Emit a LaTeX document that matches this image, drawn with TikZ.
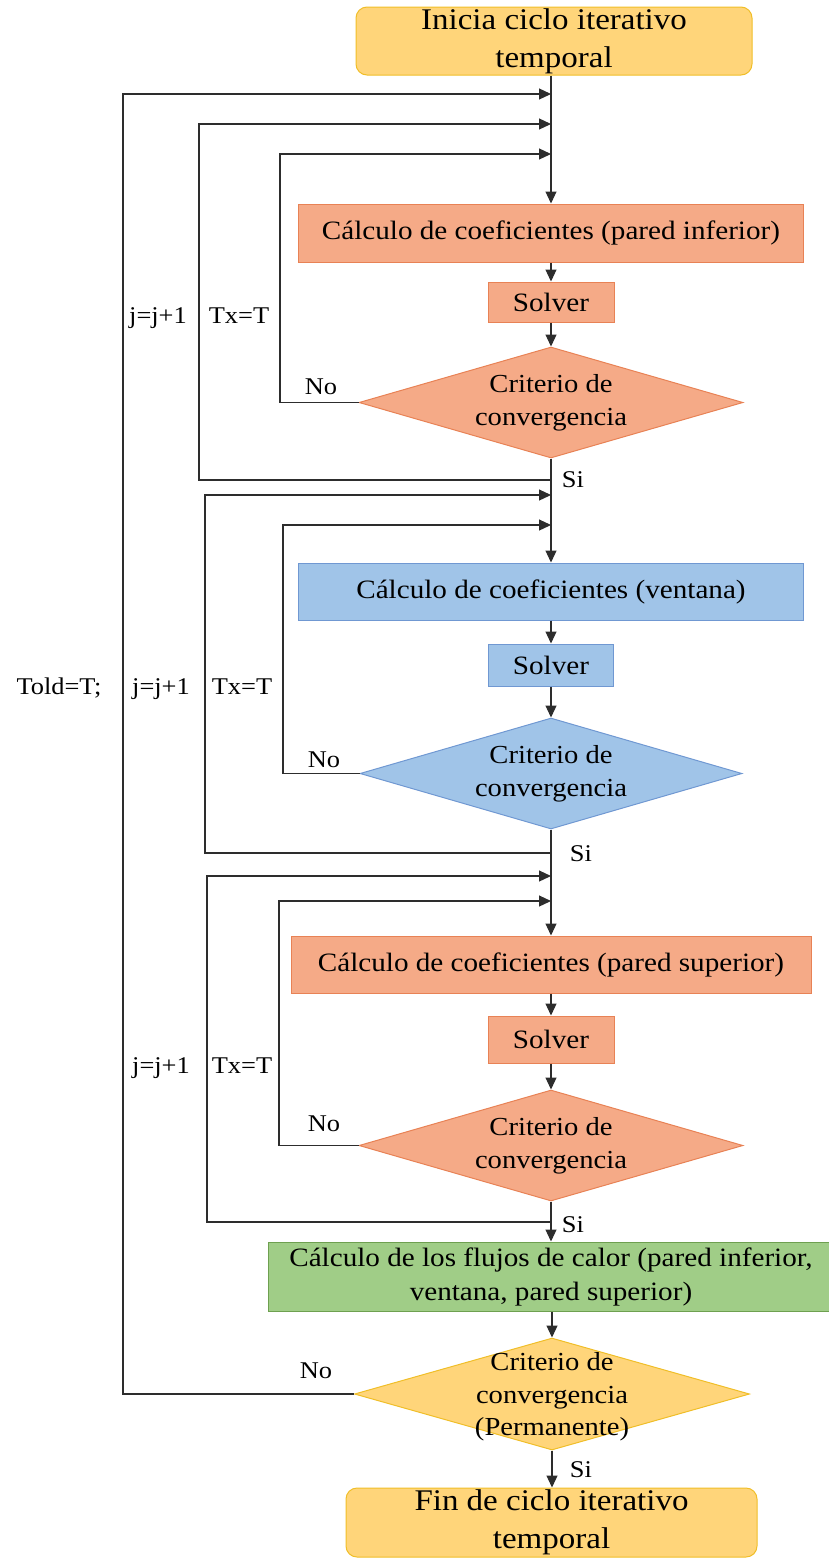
\documentclass[tikz,border=0pt]{standalone}
\usepackage{fontspec}
\setmainfont{Liberation Serif}[FakeStretch=1.1]
\usetikzlibrary{shapes.geometric,arrows.meta}
\definecolor{orfill}{RGB}{245,170,135}
\definecolor{ordraw}{RGB}{232,130,85}
\definecolor{blfill}{RGB}{160,196,232}
\definecolor{bldraw}{RGB}{112,152,210}
\definecolor{grfill}{RGB}{160,205,135}
\definecolor{grdraw}{RGB}{110,160,80}
\definecolor{yefill}{RGB}{255,213,122}
\definecolor{yedraw}{RGB}{240,190,40}
\definecolor{lncol}{RGB}{45,45,45}
\begin{document}
\begin{tikzpicture}[x=1pt,y=-1pt,
  ln/.style={draw=lncol, line width=1.2pt},
  arr/.style={ln,-{Triangle[length=12pt,width=11pt]}},
  proc/.style={rectangle, line width=1pt, inner sep=0pt, align=center,
    font=\fontsize{26.5}{34}\selectfont},
  term/.style={rectangle, rounded corners=11pt, line width=1pt, inner sep=0pt,
    align=center, fill=yefill, draw=yedraw, font=\fontsize{30}{38}\selectfont},
  dec/.style={diamond, line width=1pt, inner sep=0pt},
  dtext/.style={align=center, inner sep=0pt, font=\fontsize{26}{33}\selectfont},
  lab/.style={anchor=base, inner sep=0pt, font=\fontsize{24}{28}\selectfont}]
\useasboundingbox (0,0) rectangle (828,1559);

% --- nodes ---
\node[term, minimum width=396pt, minimum height=68pt] (start) at (554,41) {Inicia ciclo iterativo\\temporal};

\node[proc, fill=orfill, draw=ordraw, minimum width=505pt, minimum height=58pt] (b1) at (551,233) {Cálculo de coeficientes (pared inferior)};
\node[proc, fill=orfill, draw=ordraw, minimum width=126pt, minimum height=40pt] (s1) at (551,302) {Solver};
\node[dec, fill=orfill, draw=ordraw, minimum width=384pt, minimum height=111pt] (d1) at (551,402.5) {};
\node[dtext] (t1) at (d1) {Criterio de\\convergencia};

\node[proc, fill=blfill, draw=bldraw, minimum width=505pt, minimum height=57pt] (b2) at (551,591.5) {Cálculo de coeficientes (ventana)};
\node[proc, fill=blfill, draw=bldraw, minimum width=125pt, minimum height=42pt] (s2) at (551,665) {Solver};
\node[dec, fill=blfill, draw=bldraw, minimum width=382pt, minimum height=111pt] (d2) at (551,773.5) {};
\node[dtext] (t2) at (d2) {Criterio de\\convergencia};

\node[proc, fill=orfill, draw=ordraw, minimum width=520pt, minimum height=57pt] (b3) at (551,964.5) {Cálculo de coeficientes (pared superior)};
\node[proc, fill=orfill, draw=ordraw, minimum width=126pt, minimum height=47pt] (s3) at (551,1039.5) {Solver};
\node[dec, fill=orfill, draw=ordraw, minimum width=384pt, minimum height=111pt] (d3) at (551,1145.5) {};
\node[dtext] (t3) at (d3) {Criterio de\\convergencia};

\node[proc, fill=grfill, draw=grdraw, minimum width=566pt, minimum height=69pt] (g) at (551,1276.5) {Cálculo de los flujos de calor (pared inferior,\\ventana, pared superior)};
\node[dec, fill=yefill, draw=yedraw, minimum width=395pt, minimum height=112pt] (d4) at (552,1394) {};
\node[dtext, font=\fontsize{26}{32.5}\selectfont] (t4) at (552,1397) {Criterio de\\convergencia\\(Permanente)};

\node[term, minimum width=411pt, minimum height=69pt] (fin) at (551.5,1522.5) {Fin de ciclo iterativo\\temporal};

% --- junction points on the main line ---
\coordinate (m1) at (551,94);
\coordinate (m2) at (551,124);
\coordinate (m3) at (551,154);
\coordinate (j1) at (551,480);
\coordinate (m4) at (551,495);
\coordinate (m5) at (551,525);
\coordinate (j2) at (551,853);
\coordinate (m6) at (551,876);
\coordinate (m7) at (551,901);
\coordinate (j3) at (551,1222);

% --- main flow ---
\draw[arr] (start.south -| b1.north) -- (b1.north);
\draw[arr] (b1) -- (s1);
\draw[arr] (s1) -- (d1.north);
\draw[arr] (d1.south) -- (b2.north);
\draw[arr] (b2) -- (s2);
\draw[arr] (s2) -- (d2.north);
\draw[arr] (d2.south) -- (b3.north);
\draw[arr] (b3) -- (s3);
\draw[arr] (s3) -- (d3.north);
\draw[arr] (d3.south) -- (g.north);
\draw[arr] (g.south -| d4.north) -- (d4.north);
\draw[arr] (d4.south) -- (d4.south |- fin.north);

% --- loops ---
\draw[arr] (d4.west) -| (123,94) -- (m1);
\draw[arr] (j1) -| (199,124) -- (m2);
\draw[arr] (d1.west) -| (280,154) -- (m3);
\draw[arr] (j2) -| (205,495) -- (m4);
\draw[arr] (d2.west) -| (283,525) -- (m5);
\draw[arr] (j3) -| (207,876) -- (m6);
\draw[arr] (d3.west) -| (279,901) -- (m7);

% --- labels ---
\node[lab] (la1) at (158,323) {j=j+1};
\node[lab] (lb1) at (239,323) {Tx=T};
\node[lab] (lc1) at (321,394) {No};
\node[lab] (ld1) at (573,487) {Si};

\node[lab] (lt) at (59,694) {Told=T;};
\node[lab] (la2) at (161,694) {j=j+1};
\node[lab] (lb2) at (242,694) {Tx=T};
\node[lab] (lc2) at (324,767) {No};
\node[lab] (ld2) at (581,861) {Si};

\node[lab] (la3) at (161,1073) {j=j+1};
\node[lab] (lb3) at (242,1073) {Tx=T};
\node[lab] (lc3) at (324,1131) {No};
\node[lab] (ld3) at (573,1232) {Si};

\node[lab] (lc4) at (316,1378) {No};
\node[lab] (ld4) at (581,1477) {Si};
\end{tikzpicture}
\end{document}
